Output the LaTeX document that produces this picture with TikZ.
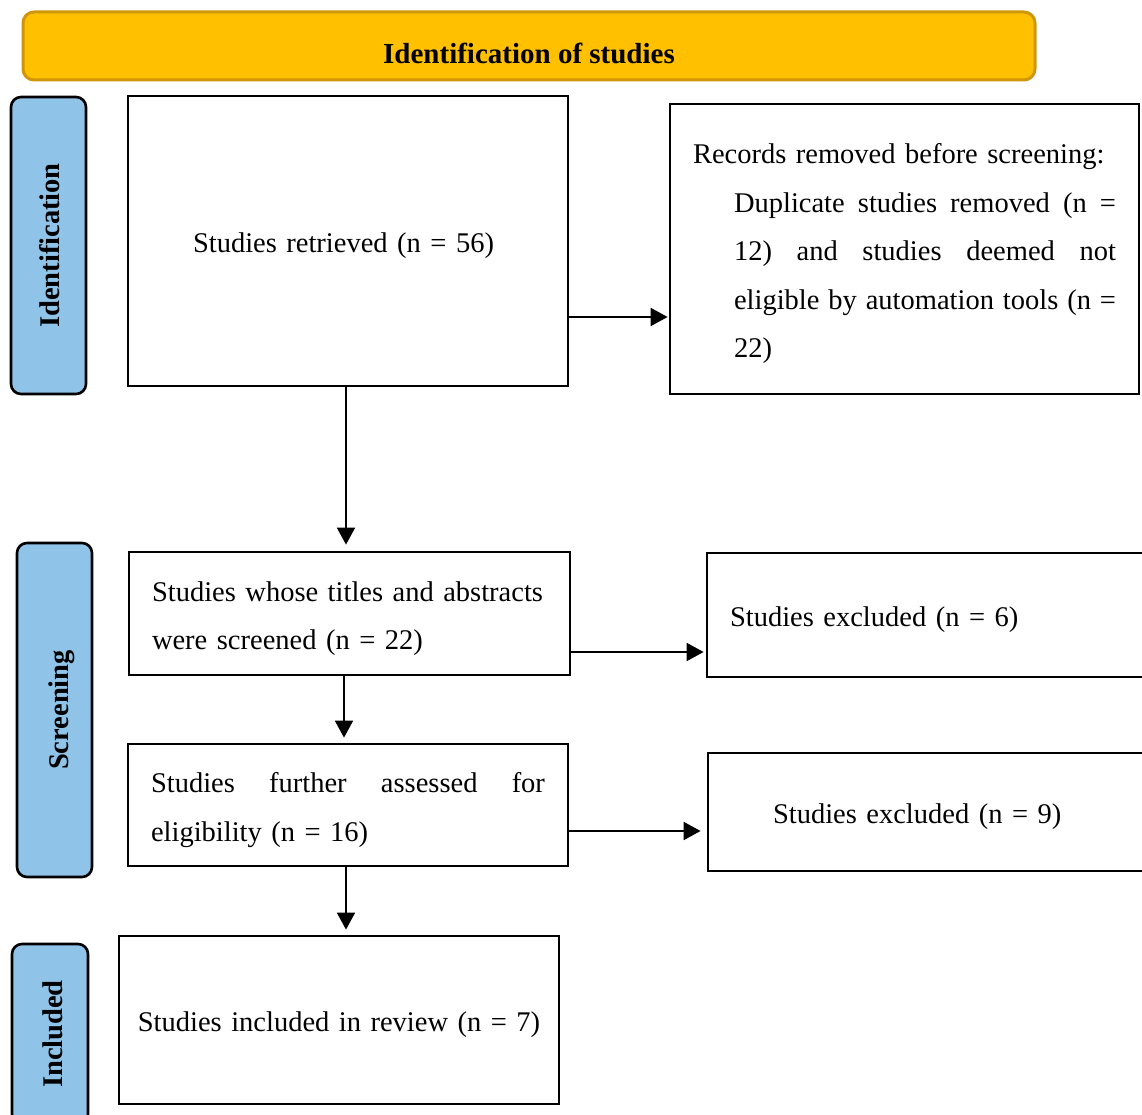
\documentclass[tikz,border=0pt]{standalone}
\usepackage{fontspec}
\setmainfont{Liberation Serif}
\usetikzlibrary{arrows.meta}
\definecolor{gold}{RGB}{255,192,0}
\definecolor{golddark}{RGB}{208,150,10}
\definecolor{sideblue}{RGB}{143,195,232}
\newcommand{\mainfs}{\fontsize{28.5}{48.5}\selectfont}
\newcommand{\bannerfs}{\fontsize{29}{32}\selectfont}
\newcommand{\sidefs}{\fontsize{28.5}{32}\selectfont}
\newcommand{\dn}{\rule{0pt}{30pt}}
\begin{document}
\begin{tikzpicture}[x=1pt,y=-1pt,
  banner/.style={draw=golddark, fill=gold, line width=3pt, rounded corners=11pt,
    inner sep=0pt, font=\bfseries\bannerfs, text height=40pt, text depth=4pt},
  side/.style={draw=black, line width=2.6pt, fill=sideblue, rounded corners=10pt,
    rotate=90, font=\bfseries\sidefs, inner sep=0pt, text depth=0pt},
  box/.style={draw=black, line width=2.8pt, inner sep=0pt, font=\mainfs, align=left},
  arr/.style={line width=1.9pt, -{Triangle[length=17pt,width=18pt]}}]
\useasboundingbox (0,0) rectangle (1142,1115);

\node[banner, minimum width=1012pt, minimum height=68pt] (ban) at (529,46) {Identification of studies};

\node[side, minimum width=297pt, minimum height=75pt, text height=22.5pt] (sid) at (48.5,245.5) {Identification};
\node[side, minimum width=334pt, minimum height=75pt, text height=27.5pt] (ssc) at (54.5,710) {Screening};
\node[side, minimum width=180pt, minimum height=76pt, text height=25.5pt] (sin) at (50,1034) {Included};

\node[box, minimum width=440pt, minimum height=290pt, text width=310pt] (b1) at (348,241)
  {\dn Studies retrieved (n = 56)};
\node[box, minimum width=469pt, minimum height=290pt, text width=423pt] (b2) at (904.5,249)
  {\dn Records removed before screening:\\
   \hspace*{41pt}\makebox[382pt][l]{Duplicate\hfill studies\hfill removed\hfill (n\hfill =}\\
   \hspace*{41pt}\makebox[382pt][l]{12)\hfill and\hfill studies\hfill deemed\hfill not}\\
   \hspace*{41pt}\makebox[382pt][l]{eligible\hfill by\hfill automation\hfill tools\hfill (n\hfill =}\\
   \hspace*{41pt}22)};
\node[box, minimum width=441pt, minimum height=123pt, text width=395pt] (b3) at (349.5,613.5)
  {\dn\mbox{Studies whose titles and abstracts}\\were screened (n = 22)};
\node[box, minimum width=458pt, minimum height=124pt, text width=412pt] (b4) at (936,615)
  {\dn Studies excluded (n = 6)};
\node[box, minimum width=440pt, minimum height=122pt, text width=394pt] (b5) at (348,805)
  {\dn\makebox[394pt][l]{Studies\hfill further\hfill assessed\hfill for}\\eligibility (n = 16)};
\node[box, minimum width=457pt, minimum height=118pt, text width=327pt] (b6) at (936.5,812)
  {\dn Studies excluded (n = 9)};
\node[box, minimum width=440pt, minimum height=168pt, text width=420pt, align=center] (b7) at (339,1020)
  {\dn Studies included in review (n = 7)};

\draw[arr, shorten >=1pt] (b1.east |- 0,317) -- (b2.west |- 0,317);
\draw[arr, shorten >=6pt] (b1.south -| 346,0) -- (b3.north -| 346,0);
\draw[arr, shorten >=2pt] (b3.east |- 0,652) -- (b4.west |- 0,652);
\draw[arr, shorten >=5pt] (b3.south -| 344,0) -- (b5.north -| 344,0);
\draw[arr, shorten >=6pt] (b5.east |- 0,831) -- (b6.west |- 0,831);
\draw[arr, shorten >=5pt] (b5.south -| 346,0) -- (b7.north -| 346,0);
\end{tikzpicture}
\end{document}
